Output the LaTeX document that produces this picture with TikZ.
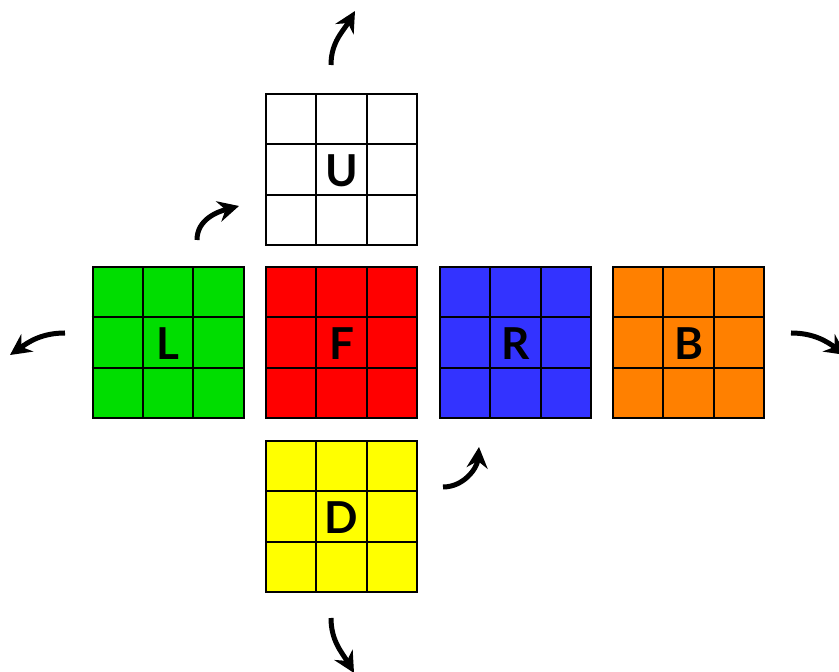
\documentclass[tikz,border=0pt]{standalone}
\usepackage{fontspec}
\setmainfont{Lato}
\usetikzlibrary{arrows.meta,calc}
\definecolor{facegreen}{RGB}{0,221,0}
\definecolor{facered}{RGB}{255,0,0}
\definecolor{faceblue}{RGB}{51,51,255}
\definecolor{faceorange}{RGB}{255,128,0}
\definecolor{faceyellow}{RGB}{255,255,0}
\tikzset{
  face/.style={draw=black, line width=2pt, minimum size=151pt, inner sep=0pt},
  facelabel/.style={font=\fontsize{44}{44}\selectfont\bfseries},
  turn/.style={line width=5pt, -{Stealth[length=21pt, width=21pt, inset=7pt]}},
}
% inner grid of a face: two lines each way
\newcommand{\facegrid}[1]{%
  \foreach \k in {1,2} {
    \draw[line width=2pt] ($(#1.south west)!\k/3!(#1.south east)$) -- ($(#1.north west)!\k/3!(#1.north east)$);
    \draw[line width=2pt] ($(#1.south west)!\k/3!(#1.north west)$) -- ($(#1.south east)!\k/3!(#1.north east)$);
  }}
\begin{document}
\begin{tikzpicture}[x=1pt, y=1pt]
\useasboundingbox (0,0) rectangle (839,672);
\clip (0,0) rectangle (839,672);
\node[face, fill=white]       (U) at (341.5,502.5) {};
\node[face, fill=facegreen]   (L) at (168,329.5)   {};
\node[face, fill=facered]     (F) at (341.5,329.5) {};
\node[face, fill=faceblue]    (R) at (515.5,329.5) {};
\node[face, fill=faceorange]  (B) at (688.5,329.5) {};
\node[face, fill=faceyellow]  (D) at (341.5,155.5) {};
\foreach \f in {U,L,F,R,B,D} {\facegrid{\f}}
\foreach \f in {U,L,F,R,B,D} {\node[facelabel] (\f t) at ($(\f)+(0,-1)$) {\f};}
% turning arrows
\coordinate (ua) at (331,607);  \coordinate (ub) at (355,661);
\coordinate (la) at (65,339);   \coordinate (lb) at (10,317);
\coordinate (ra) at (791,339);  \coordinate (rb) at (846,317);
\coordinate (da) at (331,54);   \coordinate (db) at (354,-1);
\coordinate (sa) at (197,432);  \coordinate (sb) at (239,466);
\coordinate (ta) at (443,185);  \coordinate (tb) at (479,225);
\draw[turn] (ua) to[out=90, in=-120] (ub);
\draw[turn] (la) to[out=180, in=35] (lb);
\draw[turn] (ra) to[out=0, in=145] (rb);
\draw[turn] (da) to[out=-90, in=120] (db);
\draw[turn] (sa) to[out=90, in=195] (sb);
\draw[turn] (ta) to[out=0, in=-95] (tb);
\end{tikzpicture}
\end{document}
